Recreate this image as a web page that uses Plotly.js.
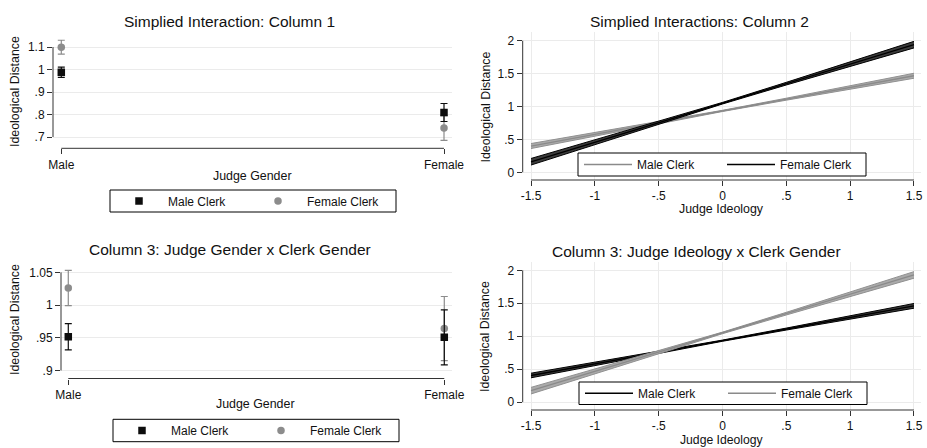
<!DOCTYPE html>
<html>
<head>
<meta charset="utf-8">
<script src="https://cdn.plot.ly/plotly-3.0.1.min.js"></script>
<style>html,body{margin:0;padding:0;background:#fff;}#chart{width:927px;height:448px;}</style>
</head>
<body>
<div id="chart"></div>
<script>
// ---------------- data ----------------
const judgeGender = ['Male', 'Female'];

// Panel 1: Simplied Interaction: Column 1
const p1MaleClerk = [0.988, 0.809];
const p1MaleClerkErr = [0.023, 0.040];
const p1FemaleClerk = [1.099, 0.740];
const p1FemaleClerkErr = [0.031, 0.055];

// Panel 3: Judge Gender x Clerk Gender
const p3MaleClerk = [0.9516, 0.9507];
const p3MaleClerkErr = [0.020, 0.042];
const p3FemaleClerk = [1.026, 0.964];
const p3FemaleClerkErr = [0.027, 0.049];

// Panels 2 and 4: predictions over judge ideology
const judgeIdeology = [-1.5, -1, -0.5, 0, 0.5, 1, 1.5];

const p2MaleFit = [0.399, 0.577, 0.755, 0.933, 1.111, 1.289, 1.467];
const p2MaleLo  = [0.361, 0.551, 0.740, 0.924, 1.096, 1.263, 1.429];
const p2MaleHi  = [0.437, 0.603, 0.770, 0.942, 1.126, 1.315, 1.505];
const p2FemaleFit = [0.160, 0.457, 0.754, 1.050, 1.347, 1.643, 1.940];
const p2FemaleLo  = [0.110, 0.422, 0.734, 1.038, 1.327, 1.608, 1.890];
const p2FemaleHi  = [0.210, 0.492, 0.774, 1.062, 1.367, 1.678, 1.990];

const p4MaleFit = [0.405, 0.581, 0.757, 0.933, 1.109, 1.285, 1.461];
const p4MaleLo  = [0.370, 0.556, 0.742, 0.924, 1.094, 1.259, 1.425];
const p4MaleHi  = [0.440, 0.606, 0.772, 0.942, 1.124, 1.311, 1.497];
const p4FemaleFit = [0.175, 0.467, 0.759, 1.051, 1.343, 1.635, 1.930];
const p4FemaleLo  = [0.125, 0.432, 0.739, 1.039, 1.323, 1.600, 1.880];
const p4FemaleHi  = [0.225, 0.502, 0.779, 1.063, 1.363, 1.670, 1.980];

// tick labels
const p1YTickVals = [0.7, 0.8, 0.9, 1, 1.1];
const p1YTickText = ['.7', '.8', '.9', '1', '1.1'];
const p3YTickVals = [0.9, 0.95, 1, 1.05];
const p3YTickText = ['.9', '.95', '1', '1.05'];
const ideoTickVals = [-1.5, -1, -0.5, 0, 0.5, 1, 1.5];
const ideoTickText = ['-1.5', '-1', '-.5', '0', '.5', '1', '1.5'];
const distTickVals = [0, 0.5, 1, 1.5, 2];
const distTickText = ['0', '.5', '1', '1.5', '2'];

// ---------------- styling / layout ----------------
const W = 927, H = 448;
const px = v => v / W;
const py = v => 1 - v / H;
const FONT = 'Liberation Sans, Arial, Helvetica, sans-serif';
const BLACK = '#0d0d0d';
const GRAY = '#8c8c8c';
const AXC = '#333333';
const GRID = '#ebebeb';

function pointTrace(y, err, name, color, symbol, xa, ya, leg, rank, lw) {
  const t = {
    type: 'scatter', mode: 'markers', x: judgeGender, y: y, name: name,
    xaxis: xa, yaxis: ya, legend: leg, showlegend: true, legendrank: rank,
    marker: {color: color, symbol: symbol, size: 7.5, line: {width: 0}},
    error_y: {type: 'data', array: err, visible: true, color: color, thickness: 1.2, width: 3.5},
    hoverinfo: 'skip'
  };
  if (lw) t.legendwidth = lw;
  return t;
}

function bandTraces(lo, hi, fit, name, edge, fill, center, xa, ya, leg, lw) {
  const t = [
    {type: 'scatter', mode: 'lines', x: judgeIdeology, y: lo, xaxis: xa, yaxis: ya, legend: leg,
     line: {color: edge, width: 1}, showlegend: false, hoverinfo: 'skip'},
    {type: 'scatter', mode: 'lines', x: judgeIdeology, y: hi, xaxis: xa, yaxis: ya, legend: leg,
     line: {color: edge, width: 1}, fill: 'tonexty', fillcolor: fill, showlegend: false, hoverinfo: 'skip'},
    {type: 'scatter', mode: 'lines', x: judgeIdeology, y: fit, xaxis: xa, yaxis: ya, name: name,
     line: {color: center, width: 1.3}, legend: leg, showlegend: true, hoverinfo: 'skip'}
  ];
  if (lw) t[2].legendwidth = lw;
  return t;
}

const data = [
  // panel 1 (female clerk drawn first so the black squares sit on top)
  pointTrace(p1FemaleClerk, p1FemaleClerkErr, 'Female Clerk', GRAY, 'circle', 'x', 'y', 'legend', 2, 87),
  pointTrace(p1MaleClerk, p1MaleClerkErr, 'Male Clerk', BLACK, 'square', 'x', 'y', 'legend', 1),
  // panel 2
  ...bandTraces(p2MaleLo, p2MaleHi, p2MaleFit, 'Male Clerk', '#909090', '#ababab', '#8a8a8a', 'x2', 'y2', 'legend2'),
  ...bandTraces(p2FemaleLo, p2FemaleHi, p2FemaleFit, 'Female Clerk', '#000000', '#3c3c3c', '#000000', 'x2', 'y2', 'legend2', 85),
  // panel 3
  pointTrace(p3FemaleClerk, p3FemaleClerkErr, 'Female Clerk', GRAY, 'circle', 'x3', 'y3', 'legend3', 2, 87),
  pointTrace(p3MaleClerk, p3MaleClerkErr, 'Male Clerk', BLACK, 'square', 'x3', 'y3', 'legend3', 1),
  // panel 4
  ...bandTraces(p4MaleLo, p4MaleHi, p4MaleFit, 'Male Clerk', '#000000', '#3c3c3c', '#000000', 'x4', 'y4', 'legend4'),
  ...bandTraces(p4FemaleLo, p4FemaleHi, p4FemaleFit, 'Female Clerk', '#909090', '#ababab', '#8a8a8a', 'x4', 'y4', 'legend4', 85)
];

function xAxis(domain, range, anchor, extra) {
  return Object.assign({
    domain: domain, range: range, anchor: anchor, ticks: 'outside', ticklen: 5, tickwidth: 1,
    tickcolor: AXC, showline: false, zeroline: false, showgrid: false,
    tickfont: {family: FONT, size: 12, color: '#111'}, fixedrange: true
  }, extra);
}
function yAxis(domain, range, anchor, vals, text) {
  return {
    domain: domain, range: range, anchor: anchor, ticks: 'outside', ticklen: 5, tickwidth: 1,
    tickcolor: AXC, showline: false, zeroline: false, showgrid: true, gridcolor: GRID, gridwidth: 1,
    tickvals: vals, ticktext: text, tickfont: {family: FONT, size: 12, color: '#111'}, fixedrange: true
  };
}

// legend: items only (the frame is drawn as a shape so its size matches exactly)
function legendBox(left, top, bottom, itemwidth, entrywidth) {
  return {
    x: px(left + 1), y: py((top + bottom) / 2), xanchor: 'left', yanchor: 'middle', orientation: 'h',
    traceorder: 'normal', borderwidth: 0, bgcolor: 'rgba(0,0,0,0)',
    font: {family: FONT, size: 12, color: '#111'},
    itemwidth: itemwidth, entrywidth: entrywidth, entrywidthmode: 'pixels',
    itemclick: false, itemdoubleclick: false
  };
}
function legendFrame(left, right, top, bottom) {
  return {type: 'rect', xref: 'paper', yref: 'paper', x0: px(left), x1: px(right), y0: py(bottom), y1: py(top),
          line: {color: '#000', width: 1}, fillcolor: '#fff', layer: 'above'};
}

function axisLines(xa, ya, x0, x1, y0, y1) {
  return [
    {type: 'line', xref: xa + ' domain', x0: 0, x1: 0, yref: ya, y0: y0, y1: y1, line: {color: AXC, width: 1}},
    {type: 'line', xref: xa, x0: x0, x1: x1, yref: ya + ' domain', y0: 0, y1: 0, line: {color: AXC, width: 1}}
  ];
}

function ann(text, x, y, size, angle) {
  return {text: text, x: px(x), y: py(y), xref: 'paper', yref: 'paper', showarrow: false,
          xanchor: 'center', yanchor: 'middle', textangle: angle || 0,
          font: {family: FONT, size: size, color: '#111'}};
}

const layout = {
  width: W, height: H, margin: {l: 0, r: 0, t: 0, b: 0},
  paper_bgcolor: '#fff', plot_bgcolor: '#fff',
  font: {family: FONT, color: '#111'},
  xaxis:  xAxis([px(53), px(452)], [-0.0217, 1.0209], 'y', {type: 'category'}),
  yaxis:  yAxis([py(148.3), py(38)], [0.6498, 1.14], 'x', p1YTickVals, p1YTickText),
  xaxis2: xAxis([px(522.7), px(921)], [-1.565, 1.555], 'y2', {tickvals: ideoTickVals, ticktext: ideoTickText, showgrid: true, gridcolor: GRID}),
  yaxis2: yAxis([py(180), py(32)], [-0.117, 2.132], 'x2', distTickVals, distTickText),
  xaxis3: xAxis([px(61), px(452)], [-0.0194, 1.0205], 'y3', {type: 'category'}),
  yaxis3: yAxis([py(378.5), py(263)], [0.8878, 1.0642], 'x3', p3YTickVals, p3YTickText),
  xaxis4: xAxis([px(522.7), px(921)], [-1.565, 1.555], 'y4', {tickvals: ideoTickVals, ticktext: ideoTickText, showgrid: true, gridcolor: GRID}),
  yaxis4: yAxis([py(410), py(262)], [-0.118, 2.126], 'x4', distTickVals, distTickText),
  legend:  legendBox(109, 190, 212, 48, 76),
  legend2: legendBox(578, 153, 176, 48, 80),
  legend3: legendBox(112, 419.3, 441.7, 48, 76),
  legend4: legendBox(579, 382, 404.5, 48, 80),
  shapes: [
    ...axisLines('x', 'y', 0, 1, 0.7, 1.1),
    ...axisLines('x2', 'y2', -1.5, 1.5, 0, 2),
    ...axisLines('x3', 'y3', 0, 1, 0.9, 1.05),
    ...axisLines('x4', 'y4', -1.5, 1.5, 0, 2),
    legendFrame(110, 396, 190, 212),
    legendFrame(578, 866, 153, 176),
    legendFrame(113, 399, 419.3, 441.7),
    legendFrame(579, 867, 382, 404.5)
  ],
  annotations: [
    ann('Simplied Interaction: Column 1', 229, 21.5, 15.5),
    ann('Simplied Interactions: Column 2', 699, 21, 15.5),
    ann('Column 3: Judge Gender x Clerk Gender', 230, 249.7, 15.5),
    ann('Column 3: Judge Ideology x Clerk Gender', 696, 251.3, 15.5),
    ann('Ideological Distance', 15, 92, 12.4, -90),
    ann('Ideological Distance', 485, 106.5, 12.4, -90),
    ann('Ideological Distance', 15, 320, 12.4, -90),
    ann('Ideological Distance', 485, 336, 12.4, -90),
    ann('Judge Gender', 252.7, 175.5, 12.4),
    ann('Judge Ideology', 721.7, 209, 12.4),
    ann('Judge Gender', 256, 404, 12.4),
    ann('Judge Ideology', 722, 440, 12.2)
  ]
};

Plotly.newPlot('chart', data, layout, {displayModeBar: false, staticPlot: true});
</script>
</body>
</html>
